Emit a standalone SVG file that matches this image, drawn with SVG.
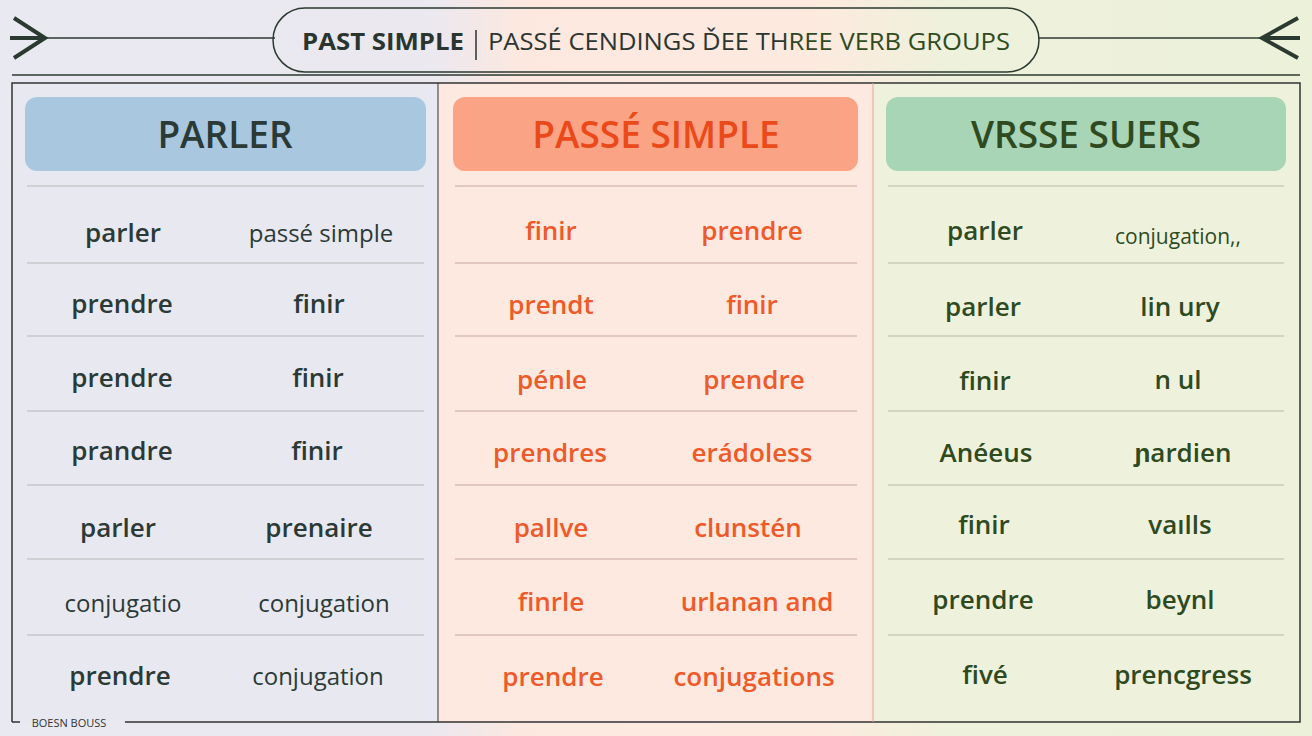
<svg xmlns="http://www.w3.org/2000/svg" width="1312" height="736" viewBox="0 0 1312 736">
<defs>
<linearGradient id="bg" x1="0" x2="1" y1="0" y2="0">
<stop offset="0" stop-color="#e9e9f1"/><stop offset="0.33" stop-color="#ebe8ef"/><stop offset="0.4" stop-color="#fde8df"/><stop offset="0.62" stop-color="#fdeadf"/><stop offset="0.72" stop-color="#eef1dc"/><stop offset="1" stop-color="#ecf1da"/>
</linearGradient>
<linearGradient id="tt" x1="0" x2="1"><stop offset="0" stop-color="#2b3530"/><stop offset="0.55" stop-color="#2b3530"/><stop offset="0.6" stop-color="#2f4a1f"/></linearGradient>
</defs>
<style>
text{font-family:"Open Sans","Liberation Sans",sans-serif;text-anchor:middle}
.h{font-size:37px;font-weight:600}
.c{font-size:26px;font-weight:600}
.l{font-size:24px;font-weight:400}
.d{fill:#2b3a36}.o{fill:#ee5a2a}.g{fill:#2f4a1f}
.sep{stroke:#b8b8b8;stroke-width:1.2}
</style>
<rect width="1312" height="736" fill="url(#bg)"/>
<rect x="12" y="83" width="426" height="639" fill="#e8e8f0"/>
<rect x="438" y="83" width="435" height="639" fill="#fde9e0"/>
<rect x="873" y="83" width="427" height="639" fill="#eef2dc"/>
<g id="header">
<path d="M14 18 L45 38 L14 58 M10 38 H45" stroke="#2b3a30" stroke-width="4" fill="none"/>
<line x1="45" y1="38" x2="275" y2="38" stroke="#2b3a30" stroke-width="1.5"/>
<path d="M1298 18 L1262 38 L1298 58 M1262 38 H1300" stroke="#2b3a30" stroke-width="4" fill="none"/>
<line x1="1038" y1="38" x2="1262" y2="38" stroke="#2b3a30" stroke-width="1.5"/>
<rect x="273" y="8" width="766" height="64" rx="32" fill="none" stroke="#2b3a30" stroke-width="1.5"/>
<text x="302" y="50" style="font-size:23px;font-weight:700;text-anchor:start" textLength="162" lengthAdjust="spacingAndGlyphs" fill="#2b3530">PAST SIMPLE</text>
<line x1="476" y1="30" x2="476" y2="60" stroke="#2b3530" stroke-width="1.5"/>
<text x="488" y="50" style="font-size:23px;text-anchor:start" textLength="522" lengthAdjust="spacingAndGlyphs" fill="url(#tt)">PASSÉ CENDINGS ĎEE THREE VERB GROUPS</text>
<line x1="12" y1="75" x2="1300" y2="75" stroke="#2b3a30" stroke-width="1.5"/>
</g>
<g id="frame" fill="none" stroke="#333" stroke-width="1.5">
<path d="M12 722 V83 H1300 V722 H125"/>
<line x1="12" y1="722" x2="20" y2="722"/>
<line x1="438" y1="83" x2="438" y2="722" stroke-width="1"/>
<line x1="873" y1="83" x2="873" y2="722" stroke="#e8a090" stroke-width="1"/>
</g>
<text x="69" y="727" style="font-size:11px" fill="#333">BOESN BOUSS</text>
<g id="col1">
<rect x="25" y="97" width="401" height="74" rx="12" fill="#a9c8df"/>
<text class="h d" x="225" y="148">PARLER</text>
<g class="sep"><line x1="27" y1="186" x2="424" y2="186"/><line x1="27" y1="263" x2="424" y2="263"/><line x1="27" y1="336" x2="424" y2="336"/><line x1="27" y1="411" x2="424" y2="411"/><line x1="27" y1="485" x2="424" y2="485"/><line x1="27" y1="559" x2="424" y2="559"/><line x1="27" y1="635" x2="424" y2="635"/></g>
<text class="c d" x="123" y="242">parler</text><text class="l d" x="321" y="242">passé simple</text>
<text class="c d" x="122" y="313">prendre</text><text class="c d" x="319" y="313">finir</text>
<text class="c d" x="122" y="387">prendre</text><text class="c d" x="318" y="387">finir</text>
<text class="c d" x="122" y="460">prandre</text><text class="c d" x="317" y="460">finir</text>
<text class="c d" x="118" y="537">parler</text><text class="c d" x="319" y="537">prenaire</text>
<text class="l d" x="123" y="612">conjugatio</text><text class="l d" x="324" y="612">conjugation</text>
<text class="c d" x="120" y="685">prendre</text><text class="l d" x="318" y="685">conjugation</text>
</g>
<g id="col2">
<rect x="453" y="97" width="405" height="74" rx="12" fill="#fba385"/>
<text class="h" x="656" y="148" fill="#ea4a1a">PASSÉ SIMPLE</text>
<g class="sep" style="stroke:#c8a8a0"><line x1="455" y1="186" x2="857" y2="186"/><line x1="455" y1="263" x2="857" y2="263"/><line x1="455" y1="336" x2="857" y2="336"/><line x1="455" y1="411" x2="857" y2="411"/><line x1="455" y1="485" x2="857" y2="485"/><line x1="455" y1="559" x2="857" y2="559"/><line x1="455" y1="635" x2="857" y2="635"/></g>
<text class="c o" x="551" y="240">finir</text><text class="c o" x="752" y="240">prendre</text>
<text class="c o" x="551" y="314">prendt</text><text class="c o" x="752" y="314">finir</text>
<text class="c o" x="552" y="389">pénle</text><text class="c o" x="754" y="389">prendre</text>
<text class="c o" x="550" y="462">prendres</text><text class="c o" x="752" y="462">erádoless</text>
<text class="c o" x="551" y="537">pallve</text><text class="c o" x="748" y="537">clunstén</text>
<text class="c o" x="551" y="611">finrle</text><text class="c o" x="757" y="611">urlanan and</text>
<text class="c o" x="553" y="686">prendre</text><text class="c o" x="754" y="686">conjugations</text>
</g>
<g id="col3">
<rect x="886" y="97" width="400" height="74" rx="12" fill="#a8d5b5"/>
<text class="h g" x="1086" y="148">VRSSE SUERS</text>
<g class="sep" style="stroke:#b8bca8"><line x1="888" y1="186" x2="1284" y2="186"/><line x1="888" y1="263" x2="1284" y2="263"/><line x1="888" y1="336" x2="1284" y2="336"/><line x1="888" y1="411" x2="1284" y2="411"/><line x1="888" y1="485" x2="1284" y2="485"/><line x1="888" y1="559" x2="1284" y2="559"/><line x1="888" y1="635" x2="1284" y2="635"/></g>
<text class="c g" x="985" y="240">parler</text><text class="l g" x="1178" y="244" style="font-size:21px">conjugation,,</text>
<text class="c g" x="983" y="316">parler</text><text class="c g" x="1180" y="316">lin ury</text>
<text class="c g" x="985" y="390">finir</text><text class="c g" x="1178" y="389">n ul</text>
<text class="c g" x="986" y="462">Anéeus</text><text class="c g" x="1183" y="462">ɲardien</text>
<text class="c g" x="984" y="534">finir</text><text class="c g" x="1180" y="534">vaılls</text>
<text class="c g" x="983" y="609">prendre</text><text class="c g" x="1180" y="609">beynl</text>
<text class="c g" x="985" y="684">fivé</text><text class="c g" x="1183" y="684">prencgress</text>
</g>
</svg>
